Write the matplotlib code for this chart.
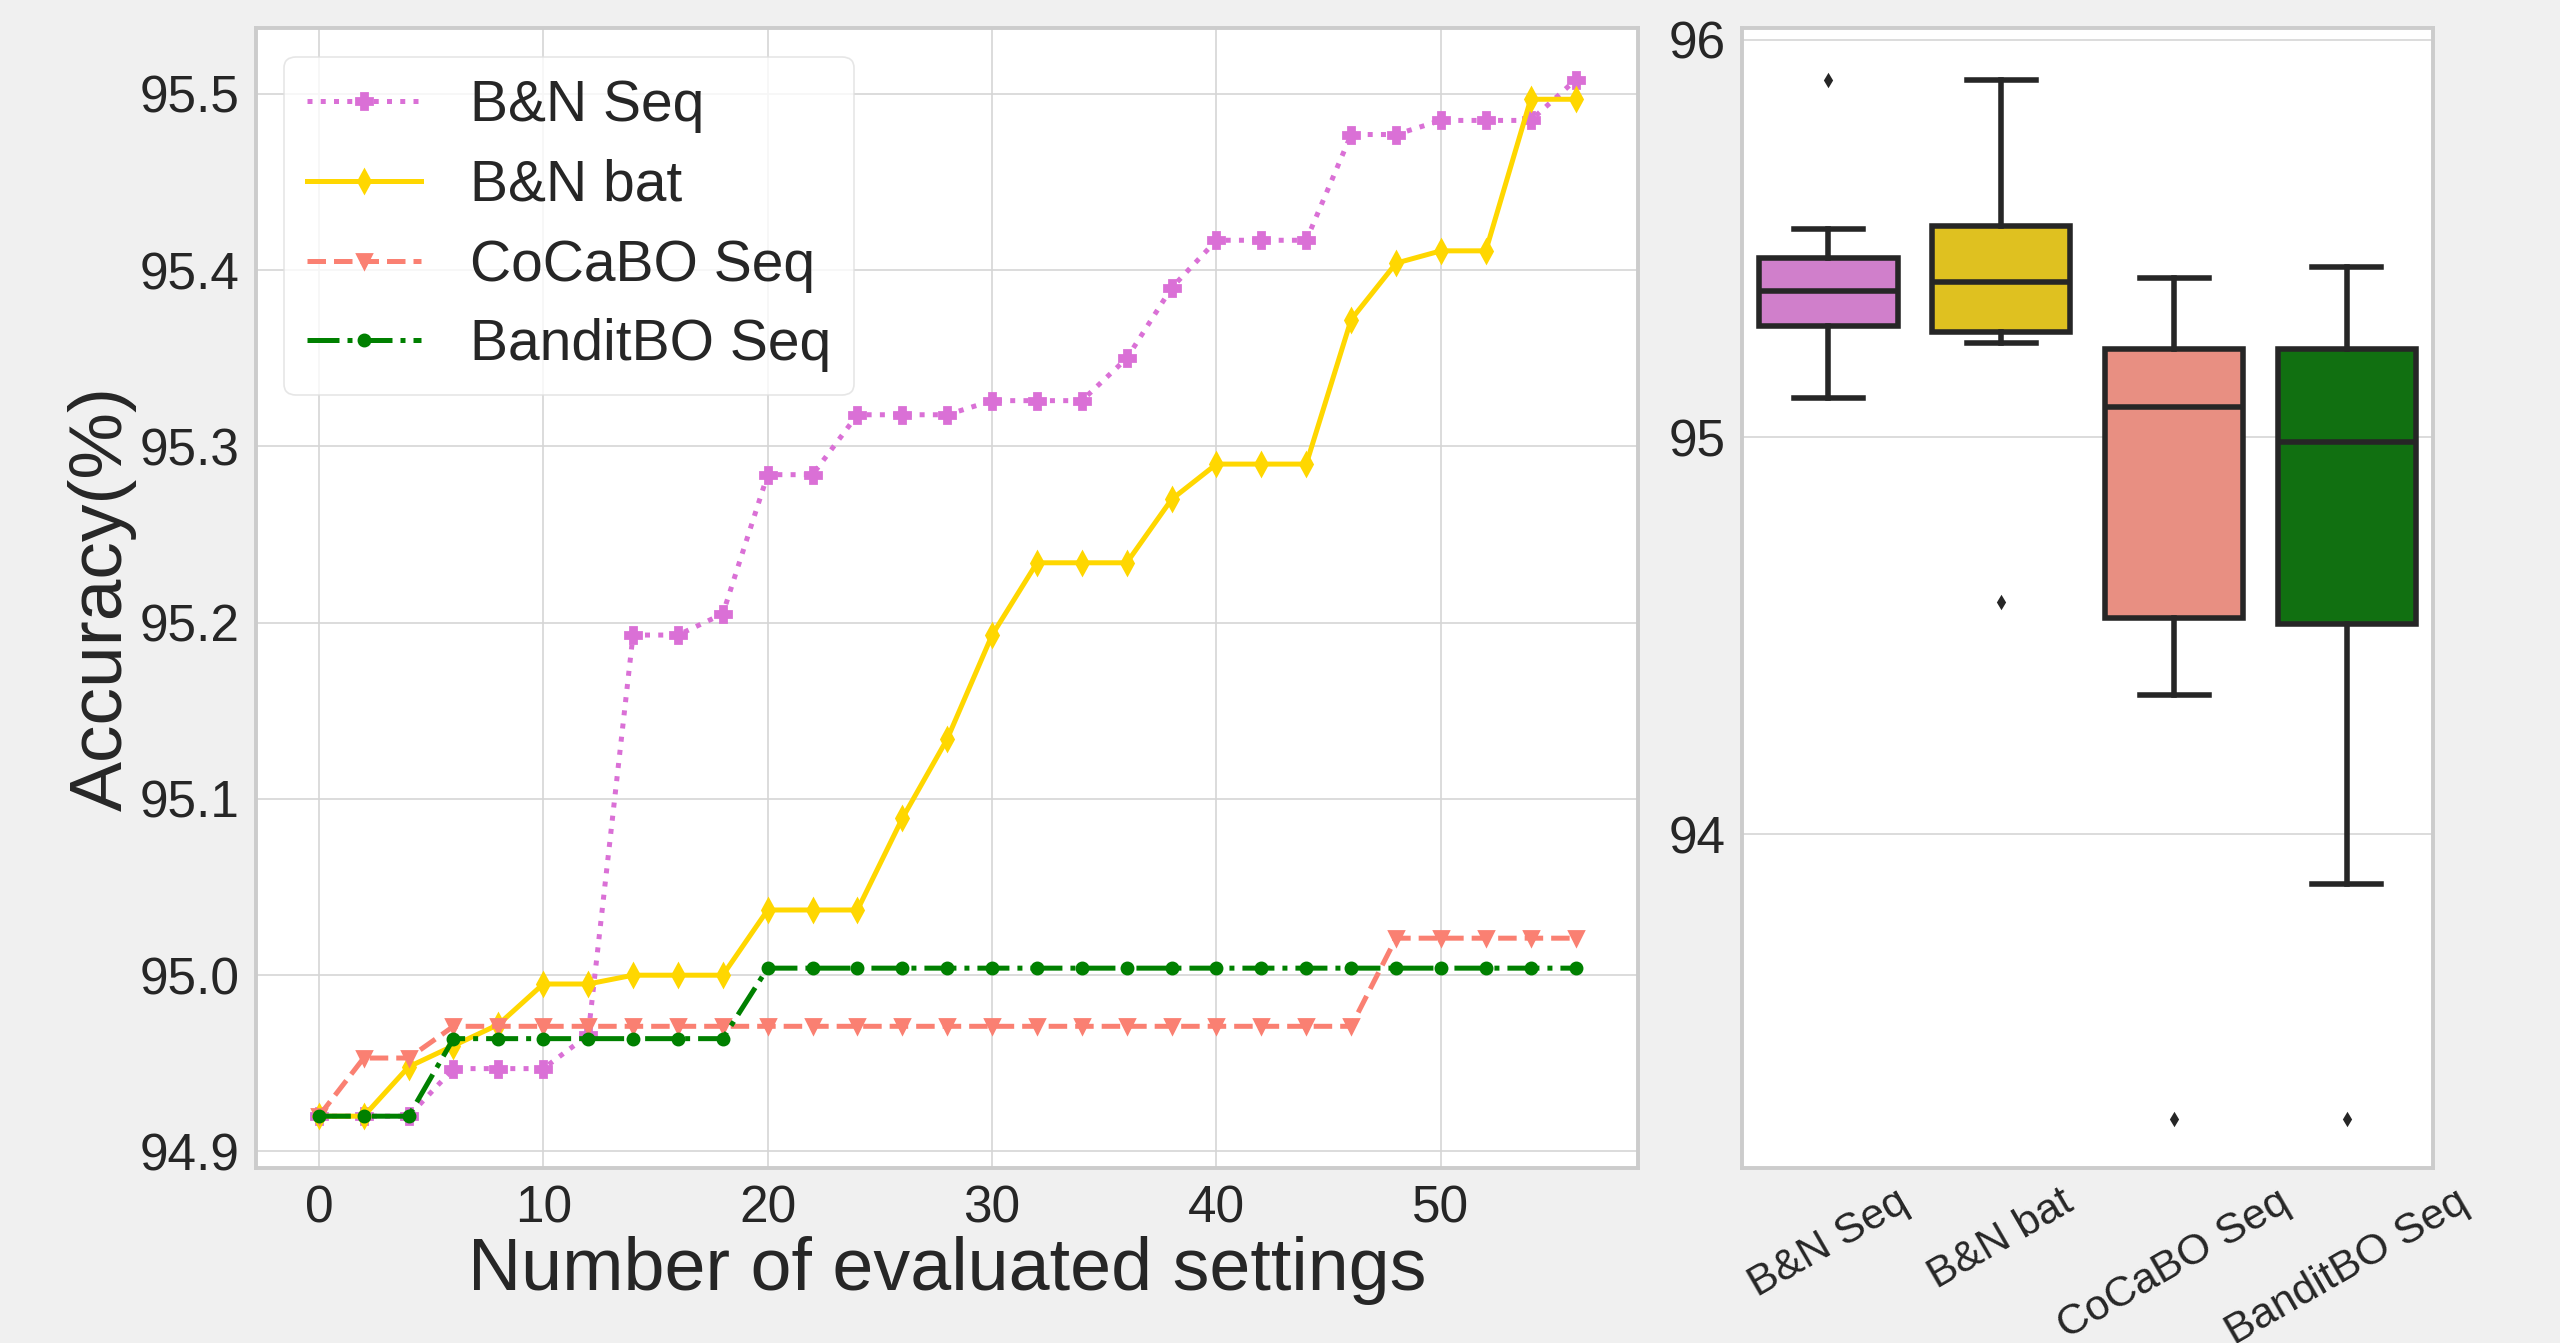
import matplotlib
matplotlib.use('Agg')
import matplotlib.pyplot as plt
import numpy as np

# dados
steps = np.arange(0, 57, 2)
bn_seq = [94.92, 94.92, 94.92, 94.947, 94.947, 94.947, 94.966, 95.193, 95.193, 95.205,
          95.284, 95.284, 95.318, 95.318, 95.318, 95.326, 95.326, 95.326, 95.350, 95.390,
          95.417, 95.417, 95.417, 95.477, 95.477, 95.485, 95.485, 95.485, 95.508]
bn_bat = [94.92, 94.92, 94.948, 94.960, 94.972, 94.995, 94.995, 95.0, 95.0, 95.0,
          95.037, 95.037, 95.037, 95.089, 95.134, 95.193, 95.234, 95.234, 95.234, 95.270,
          95.290, 95.290, 95.290, 95.372, 95.404, 95.411, 95.411, 95.497, 95.497]
cocabo_seq = [94.92, 94.953, 94.953] + [94.971] * 21 + [95.021] * 5
bandit_seq = [94.92, 94.92, 94.92] + [94.964] * 7 + [95.004] * 19

box_labels = ['B&N Seq', 'B&N bat', 'CoCaBO Seq', 'BanditBO Seq']
box_whislo = [95.099, 95.238, 94.350, 93.875]
box_q1 = [95.281, 95.266, 94.544, 94.529]
box_med = [95.369, 95.391, 95.076, 94.989]
box_q3 = [95.451, 95.531, 95.222, 95.222]
box_whishi = [95.525, 95.900, 95.402, 95.428]
box_fliers = [[95.898], [94.585], [93.283], [93.283]]
box_colors = ['#D07FCB', '#DFC120', '#E88F82', '#117011']

# estilo
plt.rcParams['font.family'] = ['Liberation Sans', 'DejaVu Sans']
plt.rcParams['text.color'] = '#262626'
plt.rcParams['axes.labelcolor'] = '#262626'
plt.rcParams['xtick.color'] = '#262626'
plt.rcParams['ytick.color'] = '#262626'

fig = plt.figure(figsize=(12.8, 6.715), dpi=200, facecolor='#f0f0f0')
ax = fig.add_axes([0.1, 0.1303, 0.54, 0.8488])
ax2 = fig.add_axes([0.6805, 0.1303, 0.27, 0.8488])

for a in (ax, ax2):
    a.set_facecolor('white')
    a.grid(True, color='#d5d5d5', lw=0.6)
    a.set_axisbelow(True)
    for s in a.spines.values():
        s.set_color('#cccccc')
        s.set_linewidth(1.4)
    a.tick_params(length=0, labelsize=18.5, pad=6)

# curvas
ax.plot(steps, bn_seq, ':', color='orchid', marker='P', ms=5.5, lw=1.8, label='B&N Seq')
ax.plot(steps, bn_bat, '-', color='gold', marker='d', ms=5.5, lw=1.8, label='B&N bat')
ax.plot(steps, cocabo_seq, '--', color='salmon', marker='v', ms=5, lw=1.8, label='CoCaBO Seq')
ax.plot(steps, bandit_seq, '-.', color='green', marker='o', ms=4, lw=1.8, label='BanditBO Seq')

ax.set_xticks([0, 10, 20, 30, 40, 50])
ax.set_yticks([94.9, 95.0, 95.1, 95.2, 95.3, 95.4, 95.5])
ax.set_yticklabels(['94.9', '95.0', '95.1', '95.2', '95.3', '95.4', '95.5'])
ax.set_xlabel('Number of evaluated settings', fontsize=26.5, labelpad=1)
ax.set_ylabel('Accuracy(%)', fontsize=27, labelpad=1)
leg = ax.legend(loc='upper left', fontsize=20.5, frameon=True, handlelength=2.0,
                borderpad=0.4, labelspacing=0.45, handletextpad=0.85)
leg.get_frame().set_edgecolor('#e0e0e0')
leg.get_frame().set_facecolor('white')
leg.get_frame().set_linewidth(0.6)

# boxplot
stats = []
for i in range(len(box_labels)):
    stats.append(dict(label=box_labels[i], whislo=box_whislo[i], q1=box_q1[i], med=box_med[i],
                      q3=box_q3[i], whishi=box_whishi[i], fliers=box_fliers[i]))
lc = '#262626'
bp = ax2.bxp(stats, positions=range(4), widths=0.8, patch_artist=True,
             boxprops=dict(edgecolor=lc, linewidth=2.0),
             medianprops=dict(color=lc, linewidth=2.0),
             whiskerprops=dict(color=lc, linewidth=2.0),
             capprops=dict(color=lc, linewidth=2.0),
             flierprops=dict(marker='d', markersize=2.5, markerfacecolor=lc,
                             markeredgecolor=lc))
for patch, c in zip(bp['boxes'], box_colors):
    patch.set_facecolor(c)
ax2.set_xlim(-0.5, 3.5)
ax2.set_ylim(93.16, 96.03)
ax2.set_yticks([94, 95, 96])
ax2.grid(False, axis='x')
ax2.tick_params(axis='x', labelsize=15.5, rotation=30, pad=5)

fig.savefig('out.png', dpi=200, facecolor=fig.get_facecolor())
